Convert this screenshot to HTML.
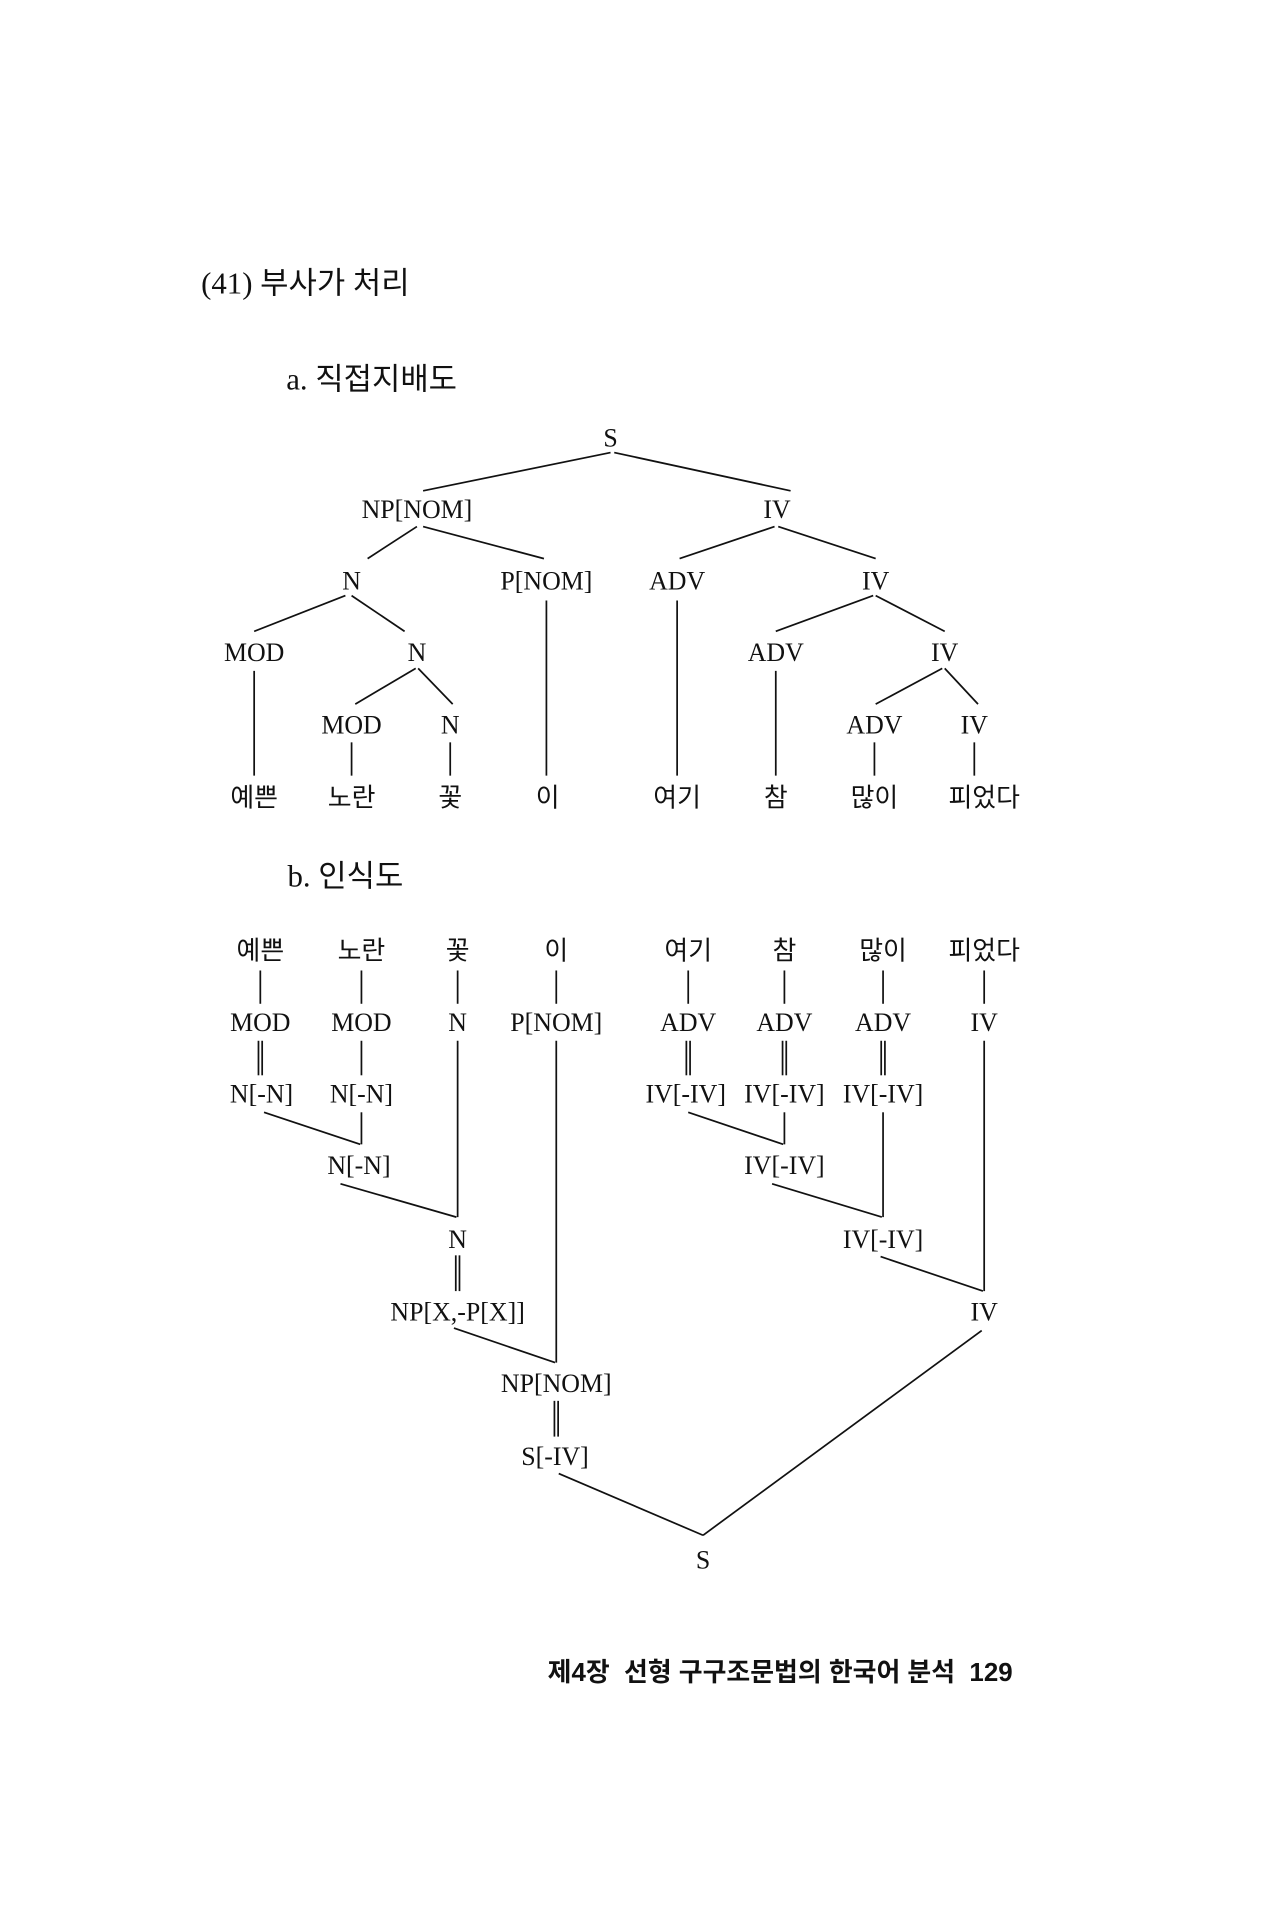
<!DOCTYPE html>
<html><head><meta charset="utf-8"><style>
html,body{margin:0;padding:0;background:#fff;}
svg{display:block;}
.t{font-family:"Liberation Serif","Noto Serif CJK KR","Noto Serif CJK SC",serif;font-size:21px;fill:#111;text-anchor:middle;}
.k{font-family:"Liberation Serif","Noto Sans CJK KR",sans-serif;font-size:21px;fill:#111;text-anchor:middle;}
.h{font-family:"Liberation Serif","Noto Sans CJK KR",serif;font-size:25px;fill:#111;}
.f{font-family:"Liberation Sans","Noto Sans CJK KR",sans-serif;font-size:21px;font-weight:bold;fill:#111;}
line{stroke:#111;stroke-width:1.4;}
</style></head><body>
<svg width="1263" height="1920" viewBox="0 0 1024 1557" xmlns="http://www.w3.org/2000/svg">
<g transform="translate(-2,-3)">
<text class="h" x="165" y="241">(41) 부사가 처리</text>
<text class="h" x="234" y="319">a. 직접지배도</text>

<text class="t" x="497" y="365">S</text>
<line x1="497" y1="370" x2="345" y2="401"/><line x1="500" y1="370" x2="643" y2="401"/>
<text class="t" x="340" y="423">NP[NOM]</text><text class="t" x="632" y="423">IV</text>
<line x1="340" y1="430" x2="300" y2="456"/><line x1="345" y1="430" x2="443" y2="456"/>
<line x1="630" y1="430" x2="553" y2="456"/><line x1="633" y1="430" x2="712" y2="456"/>
<text class="t" x="287" y="481">N</text><text class="t" x="445" y="481">P[NOM]</text>
<text class="t" x="551" y="481">ADV</text><text class="t" x="712" y="481">IV</text>
<line x1="282" y1="486" x2="208" y2="515"/><line x1="287" y1="486" x2="330" y2="515"/>
<line x1="445" y1="490" x2="445" y2="632"/><line x1="551" y1="490" x2="551" y2="632"/>
<line x1="710" y1="486" x2="631" y2="515"/><line x1="712" y1="486" x2="768" y2="515"/>
<text class="t" x="208" y="539">MOD</text><text class="t" x="340" y="539">N</text>
<text class="t" x="631" y="539">ADV</text><text class="t" x="768" y="539">IV</text>
<line x1="208" y1="547" x2="208" y2="632"/><line x1="631" y1="547" x2="631" y2="632"/>
<line x1="339" y1="545" x2="290" y2="574"/><line x1="341" y1="545" x2="369" y2="574"/>
<line x1="766" y1="545" x2="712" y2="574"/><line x1="768" y1="545" x2="795" y2="574"/>
<text class="t" x="287" y="598">MOD</text><text class="t" x="367" y="598">N</text>
<text class="t" x="711" y="598">ADV</text><text class="t" x="792" y="598">IV</text>
<line x1="287" y1="605" x2="287" y2="632"/><line x1="367" y1="605" x2="367" y2="632"/>
<line x1="711" y1="605" x2="711" y2="632"/><line x1="792" y1="605" x2="792" y2="632"/>
<text class="k" x="208" y="657">예쁜</text><text class="k" x="287" y="657">노란</text>
<text class="k" x="367" y="657">꽃</text><text class="k" x="446" y="657">이</text>
<text class="k" x="551" y="657">여기</text><text class="k" x="631" y="657">참</text>
<text class="k" x="711" y="657">많이</text><text class="k" x="800" y="657">피었다</text>

<text class="h" x="235" y="722">b. 인식도</text>

<text class="k" x="213" y="781">예쁜</text><text class="k" x="295" y="781">노란</text>
<text class="k" x="373" y="781">꽃</text><text class="k" x="453" y="781">이</text>
<text class="k" x="560" y="781">여기</text><text class="k" x="638" y="781">참</text>
<text class="k" x="718" y="781">많이</text><text class="k" x="800" y="781">피었다</text>
<line x1="213" y1="790" x2="213" y2="817"/><line x1="295" y1="790" x2="295" y2="817"/>
<line x1="373" y1="790" x2="373" y2="817"/><line x1="453" y1="790" x2="453" y2="817"/>
<line x1="560" y1="790" x2="560" y2="817"/><line x1="638" y1="790" x2="638" y2="817"/>
<line x1="718" y1="790" x2="718" y2="817"/><line x1="800" y1="790" x2="800" y2="817"/>
<text class="t" x="213" y="839">MOD</text><text class="t" x="295" y="839">MOD</text>
<text class="t" x="373" y="839">N</text><text class="t" x="453" y="839">P[NOM]</text>
<text class="t" x="560" y="839">ADV</text><text class="t" x="638" y="839">ADV</text>
<text class="t" x="718" y="839">ADV</text><text class="t" x="800" y="839">IV</text>
<line x1="211.5" y1="847" x2="211.5" y2="875"/><line x1="214.5" y1="847" x2="214.5" y2="875"/>
<line x1="295" y1="847" x2="295" y2="875"/>
<line x1="558.5" y1="847" x2="558.5" y2="875"/><line x1="561.5" y1="847" x2="561.5" y2="875"/>
<line x1="636.5" y1="847" x2="636.5" y2="875"/><line x1="639.5" y1="847" x2="639.5" y2="875"/>
<line x1="716.5" y1="847" x2="716.5" y2="875"/><line x1="719.5" y1="847" x2="719.5" y2="875"/>
<line x1="373" y1="847" x2="373" y2="990"/>
<line x1="453" y1="847" x2="453" y2="1108"/>
<line x1="800" y1="847" x2="800" y2="1050"/>
<text class="t" x="214" y="897">N[-N]</text><text class="t" x="295" y="897">N[-N]</text>
<text class="t" x="558" y="897">IV[-IV]</text><text class="t" x="638" y="897">IV[-IV]</text><text class="t" x="718" y="897">IV[-IV]</text>
<line x1="216" y1="905" x2="294" y2="931"/><line x1="295" y1="905" x2="295" y2="931"/>
<line x1="560" y1="905" x2="637" y2="931"/><line x1="638" y1="905" x2="638" y2="931"/>
<line x1="718" y1="905" x2="718" y2="990"/>
<text class="t" x="293" y="955">N[-N]</text><text class="t" x="638" y="955">IV[-IV]</text>
<line x1="278" y1="963" x2="372" y2="990"/>
<line x1="628" y1="963" x2="717" y2="990"/>
<text class="t" x="373" y="1015">N</text><text class="t" x="718" y="1015">IV[-IV]</text>
<line x1="371.5" y1="1021" x2="371.5" y2="1050"/><line x1="374.5" y1="1021" x2="374.5" y2="1050"/>
<line x1="716" y1="1022" x2="799" y2="1050"/>
<text class="t" x="373" y="1074">NP[X,-P[X]]</text><text class="t" x="800" y="1074">IV</text>
<line x1="370" y1="1080" x2="452" y2="1108"/>
<text class="t" x="453" y="1132">NP[NOM]</text>
<line x1="451.5" y1="1139" x2="451.5" y2="1168"/><line x1="454.5" y1="1139" x2="454.5" y2="1168"/>
<text class="t" x="452" y="1191">S[-IV]</text>
<line x1="455" y1="1198" x2="572" y2="1248"/><line x1="798" y1="1082" x2="572" y2="1248"/>
<text class="t" x="572" y="1275">S</text>

<text class="f" x="446" y="1366">제4장&#160;&#160;선형 구구조문법의 한국어 분석&#160;&#160;129</text>
</g>
</svg>
</body></html>
